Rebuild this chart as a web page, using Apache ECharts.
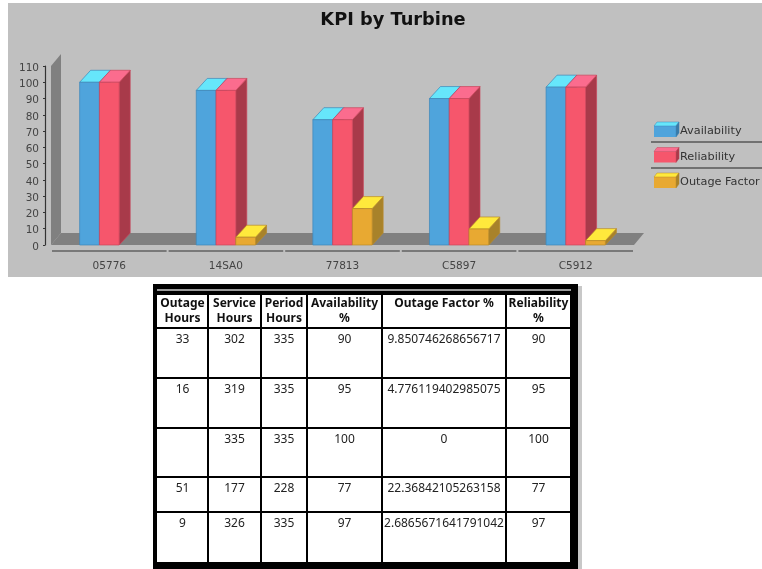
<!DOCTYPE html>
<html>
<head>
<meta charset="utf-8">
<style>html,body{margin:0;padding:0;background:#fff}#c{width:762px;height:569px}</style>
<script src="https://cdn.jsdelivr.net/npm/echarts@6/dist/echarts.min.js"></script>
</head>
<body>
<div id="c"></div>
<script>
// ---- data ----
const categories = ['05776', '14SA0', '77813', 'C5897', 'C5912'];
const availability = [100, 95, 77, 90, 97];
const reliability = [100, 95, 77, 90, 97];
const outageFactor = [0, 4.776, 22.368, 9.851, 2.687];
const tableHeader = [['Outage','Hours'],['Service','Hours'],['Period','Hours'],['Availability','%'],['Outage Factor %'],['Reliability','%']];
const tableRow1 = ['33','302','335','90','9.850746268656717','90'];
const tableRow2 = ['16','319','335','95','4.776119402985075','95'];
const tableRow3 = ['','335','335','100','0','100'];
const tableRow4 = ['51','177','228','77','22.36842105263158','77'];
const tableRow5 = ['9','326','335','97','2.6865671641791042','97'];
const tableRows = [tableRow1, tableRow2, tableRow3, tableRow4, tableRow5];

// ---- styles ----
const blue = {face:'#4fa4dc', top:'#66e6fb', side:'#3a7aa6', edge:'#3d86b8'};
const red = {face:'#f6566c', top:'#fb6c8e', side:'#a83a4a', edge:'#c8455a'};
const yellow = {face:'#e8a932', top:'#ffe93c', side:'#a8822a', edge:'#b98a28'};
const DX = 11, DY = 12, BAR_RATIO = 0.1695;
const colEdges = [157,208,261,307,382,506,571];
const rowEdges = [295,328,378,428,477,512,562];
const font = '"DejaVu Sans"';
const tableFont = '"Noto Sans"';

function barRenderer(pal, slot) {
  return function (params, api) {
    const v = api.value(1);
    if (!(v > 0)) return null;
    const base = api.coord([api.value(0), 0]);
    const top = api.coord([api.value(0), v]);
    const w = api.size([1, 0])[0] * BAR_RATIO;
    const l = base[0] + (slot - 0.5) * w, r = l + w, b = base[1], t = top[1];
    const line = {stroke: pal.edge, lineWidth: 0.7};
    return {type:'group', children:[
      {type:'polygon', shape:{points:[[r,b],[r+DX,b-DY],[r+DX,t-DY],[r,t]]}, style:Object.assign({fill:pal.side}, line)},
      {type:'polygon', shape:{points:[[l,t],[l+DX,t-DY],[r+DX,t-DY],[r,t]]}, style:Object.assign({fill:pal.top}, line)},
      {type:'rect', shape:{x:l,y:t,width:w,height:b-t}, style:Object.assign({fill:pal.face}, line)}
    ]};
  };
}
function backdrop(params, api) {
  const c = params.coordSys, wx = 10, wy = 12;
  const x = c.x, y = c.y, w = c.width, h = c.height, fill = '#808080';
  const band = w / categories.length;
  const kids = [
    {type:'polygon', shape:{points:[[x,y+h],[x,y],[x+wx,y-wy],[x+wx,y+h-wy]]}, style:{fill}},
    {type:'polygon', shape:{points:[[x,y+h],[x+w,y+h],[x+w+wx,y+h-wy],[x+wx,y+h-wy]]}, style:{fill}}
  ];
  categories.forEach((_, i) => kids.push({type:'line',
    shape:{x1:x+i*band+1,y1:y+h+6,x2:x+(i+1)*band-1,y2:y+h+6},
    style:{stroke:'#333',lineWidth:1.2}}));
  return {type:'group', children:kids};
}
function seriesData(vals){ return vals.map((v,i)=>[i,v]); }

// ---- table and decoration ----
const g = [];
g.push({type:'rect', z:-10, shape:{x:8,y:3,width:754,height:274}, style:{fill:'#c0c0c0'}});
// legend separators
[142,168].forEach(y => g.push({type:'line', z:5, shape:{x1:651,y1:y,x2:762,y2:y}, style:{stroke:'#222',lineWidth:1}}));
// legend 3D pieces
[[blue,122],[red,147.5],[yellow,173]].forEach(([p,y]) => {
  g.push({type:'polygon', z:20, shape:{points:[[654,y+4],[657,y],[679,y],[676,y+4]]}, style:{fill:p.top,stroke:p.edge,lineWidth:0.5}});
  g.push({type:'polygon', z:20, shape:{points:[[676,y+4],[679,y],[679,y+11],[676,y+15]]}, style:{fill:p.side,stroke:p.edge,lineWidth:0.5}});
});
// table frame
g.push({type:'rect', z:1, shape:{x:578,y:286,width:4,height:283}, style:{fill:'#c8c8c8'}});
g.push({type:'rect', z:2, shape:{x:153,y:284,width:425,height:285}, style:{fill:'#000'}});
g.push({type:'rect', z:3, shape:{x:157,y:289,width:414,height:2}, style:{fill:'#9a9a9a'}});
for (let r = 0; r < 6; r++) for (let c = 0; c < 6; c++) {
  g.push({type:'rect', z:3, shape:{x:colEdges[c]+(c?1:0), y:rowEdges[r]+(r?1:0),
    width:colEdges[c+1]-colEdges[c]-(c?1:0)-1, height:rowEdges[r+1]-rowEdges[r]-(r?1:0)-(r===5?0:1)}, style:{fill:'#fff'}});
}
tableHeader.forEach((lines,c) => {
  const cx = (colEdges[c]+colEdges[c+1])/2;
  lines.forEach((t,i) => g.push({type:'text', z:4, style:{text:t, x:cx, y:304+i*15, align:'center', verticalAlign:'middle',
    font:'bold 12px '+tableFont, fill:'#111'}}));
});
tableRows.forEach((row,r) => row.forEach((t,c) => {
  if (!t) return;
  g.push({type:'text', z:4, style:{text:t, x:(colEdges[c]+colEdges[c+1])/2, y:rowEdges[r+1]+12, align:'center', verticalAlign:'middle',
    font:'12px '+tableFont, fill:'#222'}});
}));

const chart = echarts.init(document.getElementById('c'), null, {renderer:'canvas'});
chart.setOption({
  animation:false,
  backgroundColor:'#fff',
  title:{text:'KPI by Turbine', left:388, top:6, textAlign:'center', textStyle:{fontFamily:font,fontSize:17.8,fontWeight:'bold',color:'#111'}},
  legend:{orient:'vertical', left:654, top:126, padding:0, itemWidth:22, itemHeight:11, itemGap:14.5, selectedMode:false, icon:'rect',
    data:['Availability','Reliability','Outage Factor'],
    textStyle:{fontFamily:font,fontSize:11.3,color:'#333',padding:[0,0,0,-1]}},
  grid:{left:51, top:66, width:583, height:179, containLabel:false},
  xAxis:{type:'category', data:categories, offset:6,
    axisLine:{show:false}, axisTick:{show:false},
    axisLabel:{fontFamily:font,fontSize:10.5,color:'#444',margin:10}},
  yAxis:{type:'value', min:0, max:110, interval:10, offset:6,
    axisLine:{show:true,lineStyle:{color:'#333',width:1.2}},
    axisTick:{show:true,length:2,lineStyle:{color:'#333'}},
    splitLine:{show:false},
    axisLabel:{fontFamily:font,fontSize:10.5,color:'#444',margin:6,verticalAlign:'bottom',padding:[0,0,-7.5,0]}},
  graphic:{elements:g},
  series:[
    {type:'custom', name:'_bg', silent:true, renderItem:backdrop, data:[[0,0]], encode:{x:0,y:1}, z:1},
    {type:'custom', name:'Availability', renderItem:barRenderer(blue,-1), data:seriesData(availability), encode:{x:0,y:1}, itemStyle:{color:blue.face}, z:2},
    {type:'custom', name:'Reliability', renderItem:barRenderer(red,0), data:seriesData(reliability), encode:{x:0,y:1}, itemStyle:{color:red.face}, z:3},
    {type:'custom', name:'Outage Factor', renderItem:barRenderer(yellow,1), data:seriesData(outageFactor), encode:{x:0,y:1}, itemStyle:{color:yellow.face}, z:4}
  ]
});
</script>
</body>
</html>
